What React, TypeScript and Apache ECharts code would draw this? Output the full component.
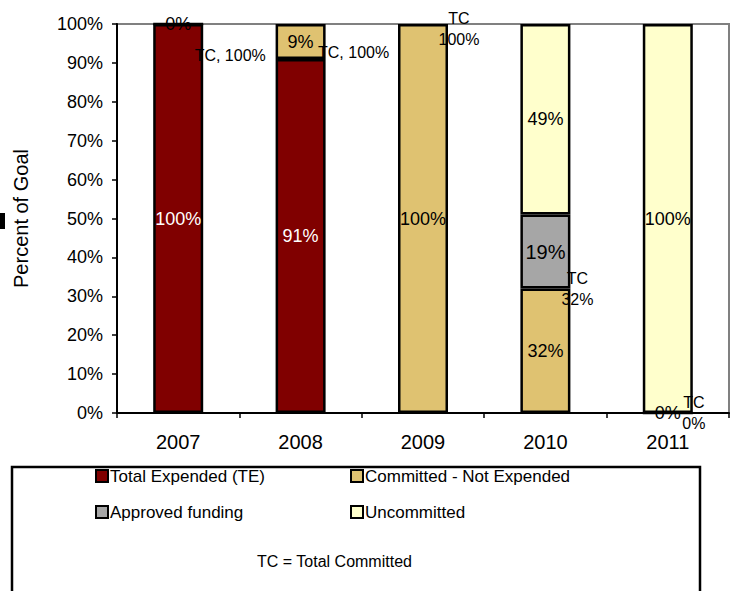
import React, { useEffect, useRef } from "react";
import * as echarts from "echarts";

const years = ["2007", "2008", "2009", "2010", "2011"];
const totalExpended = [100, 91, null, null, null];
const committedNotExpended = [0, 9, 100, 32, 0];
const approvedFunding = [null, null, null, 19, null];
const uncommitted = [null, null, null, 49, 100];
const totalCommitted = [100, 100, 100, 32, 0];
const tcLabelText = ["TC, 100%", "TC, 100%", "TC\n100%", "TC\n32%", "TC\n0%"];
const yTicks = [0, 10, 20, 30, 40, 50, 60, 70, 80, 90, 100];

const FONT = "Liberation Sans, Arial, sans-serif";

export default function App() {
  const ref = useRef<HTMLDivElement>(null);
  useEffect(() => {
    if (!ref.current) return;
    const chart = echarts.init(ref.current, null, { renderer: "svg" });
    const tcOffsets = [
      [52, 31],
      [53, 28],
      [36, 5],
      [32, 0],
      [26, 0],
    ];
    const barBase = {
      type: "bar",
      stack: "goal",
      barWidth: 50,
      itemStyle: { borderColor: "#000", borderWidth: 2.5 },
      label: {
        show: true,
        position: "inside",
        formatter: "{c}%",
        fontSize: 18,
        fontFamily: FONT,
        color: "#000",
      },
    };
    const option: any = {
      animation: false,
      textStyle: { fontFamily: FONT },
      grid: {
        left: 117,
        right: 1,
        top: 24,
        bottom: 178,
        show: true,
        borderColor: "#808080",
        borderWidth: 2,
        backgroundColor: "transparent",
      },
      legend: [
        { name: "Total Expended (TE)", left: 95, top: 467 },
        { name: "Committed - Not Expended", left: 350, top: 467 },
        { name: "Approved funding", left: 95, top: 503 },
        { name: "Uncommitted", left: 350, top: 503 },
      ].map((l) => ({
        data: [{ name: l.name, icon: "rect" }],
        left: l.left,
        top: l.top,
        padding: 0,
        itemWidth: 12,
        itemHeight: 12,
        itemStyle: { borderColor: "#000", borderWidth: 2 },
        textStyle: {
          fontSize: 17,
          fontFamily: FONT,
          color: "#000",
          lineHeight: 18,
          padding: [0, 0, 0, -3],
        },
      })),
      xAxis: {
        type: "category",
        data: years,
        boundaryGap: true,
        axisLine: { lineStyle: { color: "#000", width: 2 } },
        axisTick: { show: true, length: 5, lineStyle: { color: "#000", width: 1.5 } },
        axisLabel: { fontSize: 20, color: "#000", margin: 19, fontFamily: FONT },
      },
      yAxis: {
        type: "value",
        min: yTicks[0],
        max: yTicks[yTicks.length - 1],
        interval: 10,
        name: "Percent of Goal",
        nameLocation: "middle",
        nameGap: 86,
        nameTextStyle: { fontSize: 20, color: "#000", fontFamily: FONT },
        axisLine: { show: true, lineStyle: { color: "#000", width: 2 } },
        axisTick: { show: true, length: 5, lineStyle: { color: "#000", width: 1.5 } },
        splitLine: { show: false },
        axisLabel: {
          formatter: "{value}%",
          fontSize: 18,
          color: "#000",
          margin: 14,
          fontFamily: FONT,
        },
      },
      series: [
        {
          ...barBase,
          name: "Total Expended (TE)",
          data: totalExpended,
          itemStyle: { ...barBase.itemStyle, color: "#800000" },
          label: { ...barBase.label, color: "#fff" },
        },
        {
          ...barBase,
          name: "Committed - Not Expended",
          data: committedNotExpended,
          itemStyle: { ...barBase.itemStyle, color: "#DFC271" },
        },
        {
          ...barBase,
          name: "Approved funding",
          data: approvedFunding.map((v) =>
            v === null ? null : { value: v, label: { fontSize: 20 } }
          ),
          itemStyle: { ...barBase.itemStyle, color: "#A6A6A6" },
        },
        {
          ...barBase,
          name: "Uncommitted",
          data: uncommitted,
          itemStyle: { ...barBase.itemStyle, color: "#FFFFCC" },
        },
        {
          type: "scatter",
          name: "TC",
          symbolSize: 0,
          z: 10,
          silent: true,
          itemStyle: { opacity: 1 },
          data: totalCommitted.map((v, i) => ({
            value: v,
            label: {
              show: true,
              position: "inside",
              offset: tcOffsets[i],
              formatter: tcLabelText[i],
              fontSize: 16,
              lineHeight: 21,
              align: "center",
              fontFamily: FONT,
              color: "#000",
              opacity: 1,
            },
          })),
        },
      ],
      graphic: [
        {
          type: "rect",
          shape: { x: 12, y: 467, width: 688, height: 140 },
          style: { fill: "none", stroke: "#000", lineWidth: 2.5 },
          z: -1,
        },
        {
          type: "text",
          x: 334.5,
          y: 561,
          style: {
            text: "TC = Total Committed",
            fontSize: 16,
            fontFamily: FONT,
            fill: "#000",
            align: "center",
            verticalAlign: "middle",
          },
        },
        {
          type: "rect",
          shape: { x: 0, y: 213, width: 5, height: 16 },
          style: { fill: "#000" },
        },
      ],
    };
    chart.setOption(option);
    return () => chart.dispose();
  }, []);
  return (
    <div
      ref={ref}
      style={{ position: "absolute", left: 0, top: 0, width: 730, height: 591, background: "#fff" }}
    />
  );
}
